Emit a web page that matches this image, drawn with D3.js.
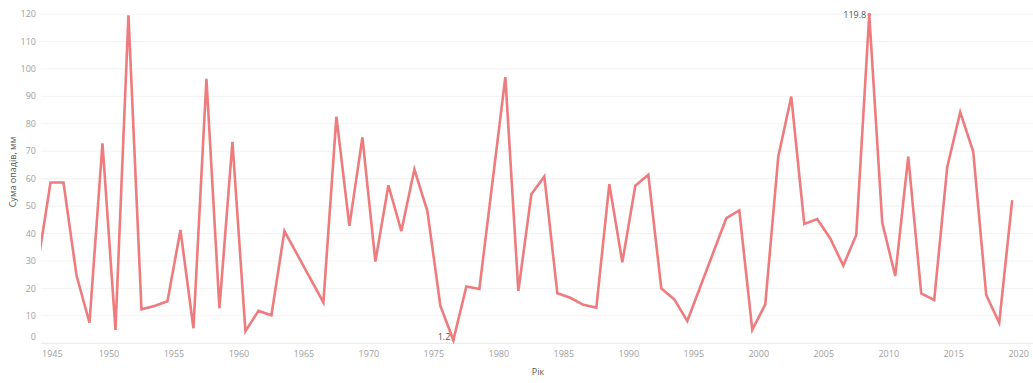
<!DOCTYPE html>
<html>
<head>
<meta charset="utf-8">
<script src="https://cdn.jsdelivr.net/npm/d3@7"></script>
<style>
  body { margin: 0; background: #fff; }
  svg { display: block; font-family: "Open Sans", "Noto Sans", sans-serif; }
</style>
</head>
<body>
<script>
var years = [1944, 1945, 1946, 1947, 1948, 1949, 1950, 1951, 1952, 1953, 1954, 1955, 1956, 1957, 1958, 1959,
    1960, 1961, 1962, 1963, 1966, 1967, 1968, 1969, 1970, 1971, 1972, 1973, 1974, 1975, 1976, 1977, 1978,
    1980, 1981, 1982, 1983, 1984, 1985, 1986, 1987, 1988, 1989, 1990, 1991, 1992, 1993, 1994,
    1997, 1998, 1999, 2000, 2001, 2002, 2003, 2004, 2005, 2006, 2007, 2008, 2009, 2010, 2011, 2012,
    2013, 2014, 2015, 2016, 2017, 2018, 2019];
var rainfall = [28, 58.6, 58.6, 24.8, 7.5, 72.9, 4.9, 119.5, 12.4, 13.6, 15.3, 41.3, 5.5, 96.4, 12.8, 73.4,
    4.4, 11.8, 10.2, 40.9, 14.9, 82.6, 42.8, 75.0, 29.8, 57.6, 40.9, 63.4, 48.2, 13.6, 1.2, 20.7, 19.8,
    97.0, 19.1, 54.3, 60.8, 18.2, 16.6, 14.0, 13.0, 58.0, 29.5, 57.4, 61.4, 20.0, 16.0, 8.1,
    45.6, 48.4, 4.9, 14.2, 68.0, 89.9, 43.5, 45.3, 38.2, 28.3, 39.5, 119.8, 44.0, 24.5, 68.0, 18.2,
    15.8, 64.2, 84.2, 69.9, 17.6, 7.5, 52.2];
var yTicks = [0, 10, 20, 30, 40, 50, 60, 70, 80, 90, 100, 110, 120];
var xTicks = [1945, 1950, 1955, 1960, 1965, 1970, 1975, 1980, 1985, 1990, 1995, 2000, 2005, 2010, 2015, 2020];
var xTitle = "Рік",
    yTitle = "Сума опадів, мм";

var width = 1033, height = 383,
    plotLeft = 41, plotRight = 1033, plotTop = 14, plotBottom = 343.3;

var data = years.map(function (y, i) { return { year: y, value: rainfall[i] }; });

var x = d3.scaleLinear().domain([1944.77, 2021.1]).range([plotLeft, plotRight]);
var y = d3.scaleLinear().domain([0, 120]).range([plotBottom, plotTop]);

var svg = d3.select("body").append("svg")
    .attr("width", width)
    .attr("height", height);

svg.append("defs").append("clipPath").attr("id", "plot")
    .append("rect")
    .attr("x", plotLeft).attr("y", 0)
    .attr("width", plotRight - plotLeft).attr("height", height);

// gridlines
svg.append("g")
    .selectAll("line")
    .data(yTicks).enter()
    .append("line")
    .attr("x1", plotLeft).attr("x2", plotRight)
    .attr("y1", function (d) { return y(d); })
    .attr("y2", function (d) { return y(d); })
    .style("stroke", function (d) { return d === 0 ? "#e8e8e8" : "#f2f2f2"; })
    .style("stroke-width", 1);

// y tick labels (0 sits a bit above its line)
svg.append("g")
    .selectAll("text")
    .data(yTicks).enter()
    .append("text")
    .attr("x", 36)
    .attr("y", function (d) { return d === 0 ? y(d) - 6 : y(d); })
    .attr("dy", "0.35em")
    .attr("text-anchor", "end")
    .style("font-size", "9px")
    .style("fill", "#a0a0a0")
    .text(function (d) { return d; });

// x tick labels
var xl = svg.append("g")
    .selectAll("text")
    .data(xTicks).enter()
    .append("text")
    .attr("x", function (d) { return x(d); })
    .attr("y", 357)
    .attr("text-anchor", "middle")
    .style("font-size", "9px")
    .style("fill", "#a0a0a0")
    .text(function (d) { return d; });

// keep the first label inside the plot like the original
xl.each(function () {
    var b = this.getBBox();
    if (b.x < plotLeft) {
        d3.select(this).attr("text-anchor", "start").attr("x", plotLeft + 1);
    }
});

// axis titles
svg.append("text")
    .attr("x", 538).attr("y", 375)
    .attr("text-anchor", "middle")
    .style("font-size", "9px")
    .style("fill", "#555")
    .text(xTitle);

svg.append("text")
    .attr("transform", "translate(16,172) rotate(-90)")
    .attr("text-anchor", "middle")
    .style("font-size", "9px")
    .style("fill", "#555")
    .text(yTitle);

// the line itself, points at mid-year
var line = d3.line()
    .x(function (d) { return x(d.year + 0.5); })
    .y(function (d) { return y(d.value); });

svg.append("path")
    .datum(data)
    .attr("clip-path", "url(#plot)")
    .attr("d", line)
    .style("fill", "none")
    .style("stroke", "#ee7b7d")
    .style("stroke-width", 2.6)
    .style("stroke-linejoin", "miter");

// min and max labels
var maxD = data[d3.maxIndex(data, function (d) { return d.value; })],
    minD = data[d3.minIndex(data, function (d) { return d.value; })];

[maxD, minD].forEach(function (d) {
    svg.append("circle")
        .attr("cx", x(d.year + 0.5))
        .attr("cy", y(d.value))
        .attr("r", 1.8)
        .style("fill", "#ee7b7d");
    svg.append("text")
        .attr("x", x(d.year + 0.5) - 3)
        .attr("y", d === maxD ? y(d.value) : y(d.value) - 3)
        .attr("dy", "0.35em")
        .attr("text-anchor", "end")
        .style("font-size", "9px")
        .style("fill", "#555")
        .text(d.value);
});
</script>
</body>
</html>
